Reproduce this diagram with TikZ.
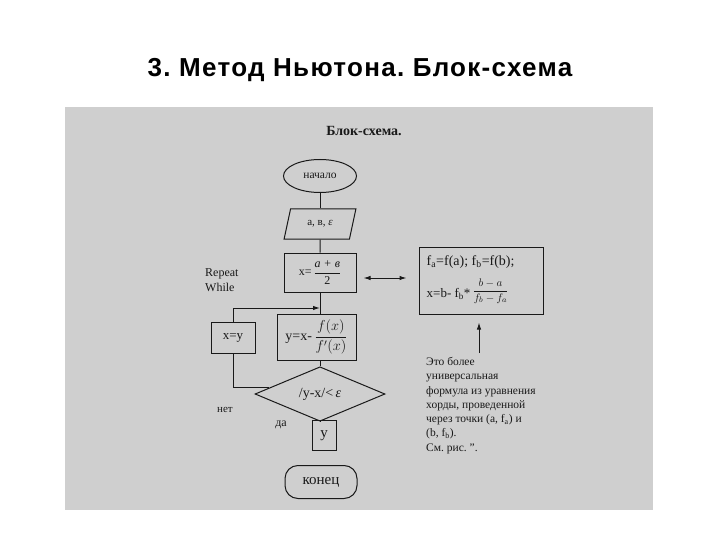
\documentclass[tikz,border=0pt]{standalone}
\usepackage{fontspec}
\setmainfont{Liberation Serif}
\newfontfamily\titlefont[LetterSpace=5]{Liberation Sans}
\usetikzlibrary{shapes.geometric,arrows.meta,calc}
\definecolor{scan}{RGB}{207,207,207}
\definecolor{ink}{RGB}{25,25,25}
\frenchspacing
\begin{document}
\begin{tikzpicture}[x=1pt,y=-1pt,
  ln/.style={draw=ink, line width=1pt},
  blk/.style={ln, rectangle, inner sep=0pt, text=ink, font=\fontsize{13}{15}\selectfont},
  tip/.style={-{Latex[length=7pt,width=4.5pt]}},
  lbl/.style={text=ink, inner sep=0pt, font=\fontsize{12}{15}\selectfont}
]
\useasboundingbox (0,0) rectangle (720,540);
\fill[white] (0,0) rectangle (720,540);
\node[font=\titlefont\bfseries\fontsize{26}{30}\selectfont] (title) at (360,70) {3. Метод Ньютона. Блок-схема};
\fill[scan] (65,107) rectangle (653,510);
\node[text=ink, font=\bfseries\fontsize{14}{16}\selectfont] (hdr) at (364,131) {Блок-схема.};

\node[ellipse, ln, minimum width=73pt, minimum height=33pt, inner sep=0pt, text=ink, font=\fontsize{11.5}{13}\selectfont] (start) at (320,176) {начало};
\node[trapezium, trapezium left angle=68, trapezium right angle=112, trapezium stretches=true, ln, minimum width=72pt, minimum height=30pt, inner sep=0pt, text=ink, font=\fontsize{11}{13}\selectfont] (inp) at (320,224) {а, в, \textit{ε}\hspace{6pt}};
\node[blk, minimum width=72pt, minimum height=39pt, font=\fontsize{12}{14}\selectfont] (b1) at (320,272.5) {x=\,$\displaystyle\frac{\mbox{\itshape a + в}}{\mbox{2}}$\hspace{8pt}};
\node[blk, minimum width=79pt, minimum height=46pt, font=\fontsize{14}{16}\selectfont] (b2) at (316.5,337) {y=x-\,$\displaystyle\frac{f(x)}{f'(x)}$};
\node[blk, minimum width=44pt, minimum height=31pt] (xy) at (233,338) {x=y};
\node[diamond, ln, minimum width=130pt, minimum height=37pt, inner sep=0pt, text=ink, font=\fontsize{14}{16}\selectfont] (dia) at (320,394) {/y-x/<\,\textit{ε}};
\node[blk, minimum width=24pt, minimum height=30pt, font=\fontsize{15}{17}\selectfont] (yb) at (324,435.5) {y};
\node[ln, rounded corners=13pt, minimum width=72pt, minimum height=33pt, inner sep=0pt, text=ink, font=\fontsize{15}{17}\selectfont] (fin) at (321,482) {конец\hspace{8pt}};

% right formula box
\node[ln, rectangle, minimum width=124pt, minimum height=67pt, inner sep=0pt] (rb) at (481,280.5) {};
\node[text=ink, inner sep=0pt, anchor=base west, font=\fontsize{14}{16}\selectfont] (rt1) at ($(rb.north west)+(8,19)$)
  {f\textsubscript{a}=f(a); f\textsubscript{b}=f(b);};
\node[text=ink, inner sep=0pt, anchor=base west, font=\fontsize{13}{15}\selectfont] (rt2) at ($(rb.north west)+(8,51)$)
  {x=b- f\textsubscript{b}*\,\raisebox{4pt}{\fontsize{11}{13}\selectfont$\displaystyle\frac{b-a}{f_b-f_a}$}};

\node[lbl, align=left, anchor=west] (rw) at (205,280) {Repeat\\While};
\node[lbl, font=\fontsize{11}{13}\selectfont] (net) at (225,410) {нет};
\node[lbl] (da) at (281,425) {да};
\node[lbl, anchor=north west, align=left, font=\fontsize{11.5}{14.3}\selectfont] (note) at (426,357)
  {Это более\\универсальная\\формула из уравнения\\хорды, проведенной\\через точки (a, f\textsubscript{a}) и\\(b, f\textsubscript{b}).\\См. рис. ".};

% main flow
\draw[ln] (start) -- (inp);
\draw[ln] (inp) -- (b1);
\draw[ln] (b1.south) -- (b1.south |- b2.north);
\draw[ln] (b2.south -| dia.north) -- (dia.north);
\draw[ln] (dia.south) -- (dia.south |- yb.north);
\draw[ln] (yb.south -| dia.south) -- (yb.south -| dia.south |- fin.north);

% loop
\coordinate (lp) at ($(dia.west)!0.22!(dia.north)$);
\coordinate (ly) at (0,308);
\draw[ln] (lp) -- (lp -| xy.south) -- (xy.south);
\draw[ln,tip] (xy.north) -- (xy.north |- ly) -- (b1.south |- ly);

% side arrows
\coordinate (ry) at (0,278);
\draw[ln,{Latex[length=7pt,width=4.5pt]}-{Latex[length=7pt,width=4.5pt]}, shorten <=7pt, shorten >=12pt] (b1.east |- ry) -- (rb.west |- ry);
\coordinate (ax) at (479,353);
\draw[ln,tip, shorten >=8pt] (ax) -- (rb.south -| ax);
\end{tikzpicture}
\end{document}
